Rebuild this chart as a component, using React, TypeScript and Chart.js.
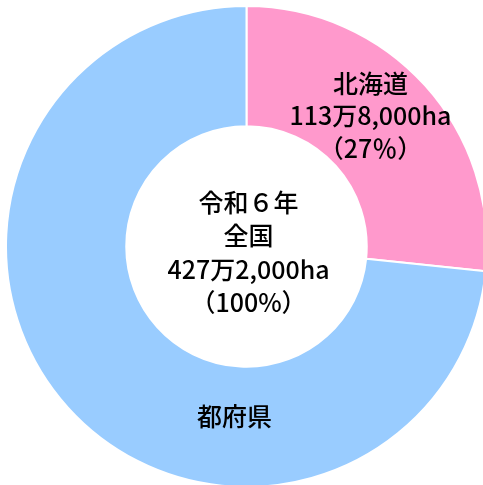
import React, { useEffect, useRef } from "react";
import { Chart, registerables } from "chart.js";

Chart.register(...registerables);

const categories = ["北海道", "都府県"];
const areaValues = [113.8, 313.4];
const sliceLabels = [
  ["北海道", "113万8,000ha", "（27％）"],
  ["都府県"],
];
const centerLines = ["令和６年", "全国", "427万2,000ha", "（100%）"];
const colors = ["#FF99CC", "#99CCFF"];

const FONT = "500 25px 'Noto Sans CJK JP', 'Noto Sans', sans-serif";
const LINE_H = 32.5;

const labelPlugin = {
  id: "labelPlugin",
  afterDraw(chart: any) {
    const ctx = chart.ctx;
    const meta = chart.getDatasetMeta(0);
    const arcs = meta.data;
    if (!arcs.length) return;
    const a0 = arcs[0];
    const cx = a0.x;
    const cy = a0.y;
    ctx.save();
    ctx.fillStyle = "#000";
    ctx.font = FONT;
    ctx.textAlign = "center";
    ctx.textBaseline = "middle";
    // Hokkaido label near arc centroid
    const p = a0.tooltipPosition();
    const l0 = sliceLabels[0];
    l0.forEach((t, i) => {
      ctx.fillText(t, p.x - 10, p.y - 10 + (i - (l0.length - 1) / 2) * LINE_H);
    });
    // Other prefectures label: placed below the hole
    const a1 = arcs[1];
    const r1 = (a1.innerRadius + a1.outerRadius) / 2 - 10;
    const ang = (94 * Math.PI) / 180;
    ctx.fillText(sliceLabels[1][0], cx + r1 * Math.cos(ang), cy + r1 * Math.sin(ang));
    // center
    centerLines.forEach((t, i) => {
      ctx.fillText(t, cx + 2, cy + 6 + (i - (centerLines.length - 1) / 2) * 33.5);
    });
    ctx.restore();
  },
};

export default function App() {
  const ref = useRef<HTMLCanvasElement | null>(null);
  useEffect(() => {
    if (!ref.current) return;
    const chart = new Chart(ref.current, {
      type: "doughnut",
      data: {
        labels: categories,
        datasets: [
          {
            data: areaValues,
            backgroundColor: colors,
            borderColor: "#FFFFFF",
            borderWidth: 2,
            hoverOffset: 0,
          },
        ],
      },
      options: {
        animation: false,
        responsive: false,
        cutout: "50%",
        layout: { padding: 0 },
        plugins: {
          legend: { display: false },
          tooltip: { enabled: false },
        },
      },
      plugins: [labelPlugin],
    });
    return () => chart.destroy();
  }, []);
  return (
    <div style={{ position: "fixed", left: 5, top: 5, width: 483, height: 483 }}>
      <canvas ref={ref} width={483} height={483} style={{ width: 483, height: 483 }} />
    </div>
  );
}
